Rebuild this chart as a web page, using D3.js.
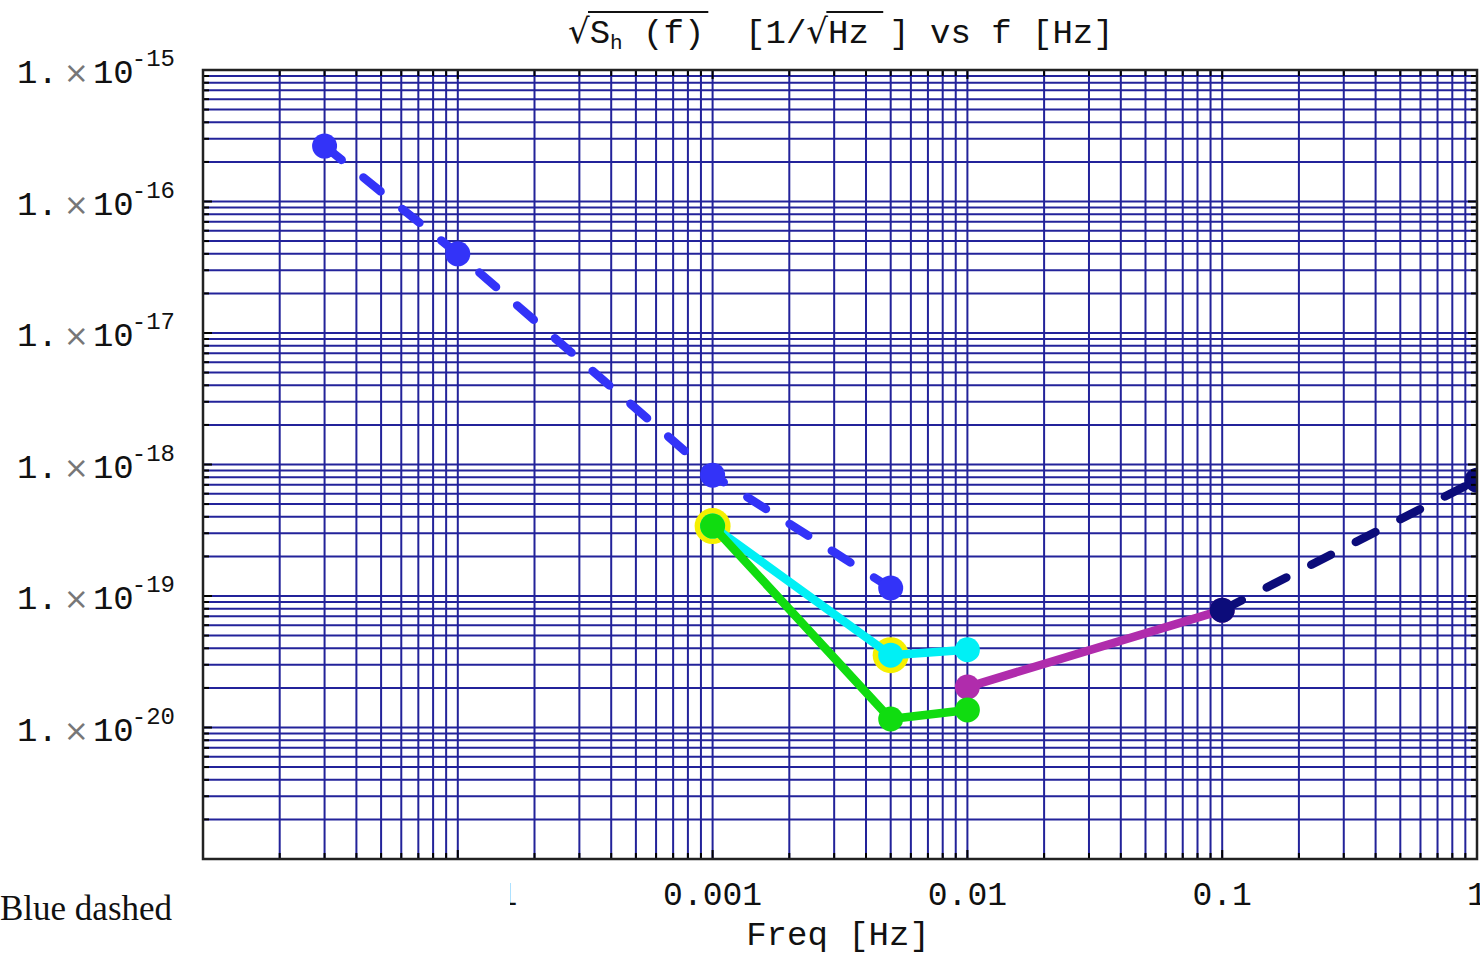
<!DOCTYPE html>
<html>
<head>
<meta charset="utf-8">
<script src="https://cdn.jsdelivr.net/npm/d3@7"></script>
<style>
  body { margin: 0; background: #fff; }
  svg { display: block; }
</style>
</head>
<body>
<svg id="my_svg"></svg>
<script>
var width = 1480, height = 956;
var svg = d3.select("#my_svg").attr("width", width).attr("height", height);

// data (freq in Hz, sqrt(Sh) in 1/sqrt(Hz))
var blueF = [3e-5, 1e-4, 1e-3, 5e-3];
var blueS = [2.64e-16, 4.0e-17, 8.3e-19, 1.15e-19];
var cyanF = [1e-3, 5e-3, 1e-2];
var cyanS = [3.4e-19, 3.55e-20, 3.9e-20];
var greenF = [1e-3, 5e-3, 1e-2];
var greenS = [3.4e-19, 1.16e-20, 1.36e-20];
var magentaF = [1e-2, 1e-1];
var magentaS = [2.03e-20, 7.8e-20];
var navyF = [1e-1, 1];
var navyS = [7.8e-20, 7.6e-19];
var yellowF = [1e-3, 5e-3];
var yellowS = [3.4e-19, 3.55e-20];

var xLabelVals = [1e-4, 1e-3, 1e-2, 1e-1, 1];
var xLabels = ["0.0001", "0.001", "0.01", "0.1", "1"];
var yLabelVals = [1e-15, 1e-16, 1e-17, 1e-18, 1e-19, 1e-20];
var yExps = ["-15", "-16", "-17", "-18", "-19", "-20"];

var plotL = 203, plotR = 1477, plotT = 70, plotB = 859;

var x = d3.scaleLog().domain([1e-5, 1]).range([plotL, plotR]);
var y = d3.scaleLog().domain([1e-21, 1e-15]).range([plotB, plotT]);

var mono = "'Liberation Mono', 'DejaVu Sans Mono', monospace";
var gridColor = "#23239a";

svg.append("clipPath").attr("id", "plotclip")
  .append("rect")
  .attr("x", plotL).attr("y", plotT)
  .attr("width", plotR - plotL).attr("height", plotB - plotT);

var plot = svg.append("g").attr("clip-path", "url(#plotclip)");

// grid lines at 1..9 x 10^n
plot.selectAll("line.vgrid")
  .data(x.ticks())
  .enter().append("line")
  .attr("class", "vgrid")
  .attr("x1", d => x(d)).attr("x2", d => x(d))
  .attr("y1", plotT).attr("y2", plotB)
  .attr("stroke", gridColor).attr("stroke-width", 2);

plot.selectAll("line.hgrid")
  .data(y.ticks())
  .enter().append("line")
  .attr("class", "hgrid")
  .attr("y1", d => y(d)).attr("y2", d => y(d))
  .attr("x1", plotL).attr("x2", plotR)
  .attr("stroke", gridColor).attr("stroke-width", 2);

// frame ticks (inside)
function isDecade(v) {
  var l = Math.log10(v);
  return Math.abs(l - Math.round(l)) < 1e-9;
}
var ticksG = svg.append("g").attr("stroke", "#000").attr("stroke-width", 2);
x.ticks().forEach(function (v) {
  var len = isDecade(v) ? 9 : 6;
  ticksG.append("line").attr("x1", x(v)).attr("x2", x(v)).attr("y1", plotB).attr("y2", plotB - len);
  ticksG.append("line").attr("x1", x(v)).attr("x2", x(v)).attr("y1", plotT).attr("y2", plotT + len);
});
y.ticks().forEach(function (v) {
  var len = isDecade(v) ? 9 : 6;
  ticksG.append("line").attr("y1", y(v)).attr("y2", y(v)).attr("x1", plotL).attr("x2", plotL + len);
  ticksG.append("line").attr("y1", y(v)).attr("y2", y(v)).attr("x1", plotR).attr("x2", plotR - len);
});

function pts(fs, ss) {
  return fs.map(function (f, i) { return [f, ss[i]]; });
}

var lineGenerator = d3.line()
  .x(function (d) { return x(d[0]); })
  .y(function (d) { return y(d[1]); });

function drawLine(data, color, dashed) {
  var p = plot.append("path")
    .attr("d", lineGenerator(data))
    .attr("fill", "none")
    .attr("stroke", color)
    .attr("stroke-width", 8.5)
    .attr("stroke-linejoin", "round")
    .attr("stroke-linecap", "round");
  if (dashed) p.attr("stroke-dasharray", "22,28");
}

function drawDots(data, color, r) {
  plot.selectAll(null)
    .data(data)
    .enter().append("circle")
    .attr("cx", d => x(d[0]))
    .attr("cy", d => y(d[1]))
    .attr("r", r)
    .attr("fill", color);
}

var blue = pts(blueF, blueS), cyan = pts(cyanF, cyanS), green = pts(greenF, greenS);
var magenta = pts(magentaF, magentaS), navy = pts(navyF, navyS), yellow = pts(yellowF, yellowS);

drawLine(blue, "#3333f8", true);
drawDots(blue, "#3333f8", 12.5);
drawLine(magenta, "#b02cac", false);
drawDots(magenta, "#b02cac", 12.5);
drawLine(navy, "#0c0c7a", true);
drawDots(navy, "#0c0c7a", 12.5);
drawDots(yellow, "#f5f000", 18);
drawLine(cyan, "#00f0f5", false);
drawDots(cyan, "#00f0f5", 12.5);
drawLine(green, "#10dc10", false);
drawDots(green, "#10dc10", 12.5);

// frame
svg.append("rect")
  .attr("x", plotL).attr("y", plotT)
  .attr("width", plotR - plotL).attr("height", plotB - plotT)
  .attr("fill", "none").attr("stroke", "#222").attr("stroke-width", 2.5);

// y labels  1. x 10^-n
yLabelVals.forEach(function (v, i) {
  var t = svg.append("text")
    .attr("x", 175).attr("y", y(v) + 13)
    .attr("text-anchor", "end")
    .style("font-family", mono).style("font-size", "34px").attr("fill", "#111");
  t.append("tspan").text("1.");
  t.append("tspan").text("\u00d7").attr("fill", "#777").attr("dx", 6)
    .style("font-family", "'DejaVu Sans', sans-serif").style("font-size", "30px");
  t.append("tspan").text("10").attr("dx", 4);
  t.append("tspan").text(yExps[i]).attr("dy", -17).attr("dx", -2).style("font-size", "24px");
});

// x labels
svg.selectAll("text.xlab")
  .data(xLabelVals)
  .enter().append("text")
  .attr("class", "xlab")
  .attr("x", d => x(d))
  .attr("y", 905)
  .attr("text-anchor", "middle")
  .style("font-family", mono).style("font-size", "33px").attr("fill", "#111")
  .text((d, i) => xLabels[i]);

// legend box covers the left of the axis labels
svg.append("rect").attr("x", 0).attr("y", 866).attr("width", 510).attr("height", 60).attr("fill", "#fff");
svg.append("text")
  .attr("x", 0).attr("y", 920)
  .style("font-family", "'Liberation Serif', 'DejaVu Serif', serif").style("font-size", "35px").attr("fill", "#111")
  .text("Blue dashed");

svg.append("text")
  .attr("x", 838).attr("y", 945)
  .attr("text-anchor", "middle")
  .style("font-family", mono).style("font-size", "34px").attr("fill", "#111")
  .text("Freq [Hz]");

// title
var title = svg.append("text")
  .attr("x", 568).attr("y", 43)
  .style("font-family", mono).style("font-size", "34px").attr("fill", "#111")
  .attr("xml:space", "preserve");
var r1 = title.append("tspan").text("\u221a").style("font-family", "'DejaVu Sans', sans-serif");
var s1 = title.append("tspan").text("S");
title.append("tspan").text("h").style("font-size", "21px").attr("dy", 6);
var e1 = title.append("tspan").text(" (f)").attr("dy", -6);
title.append("tspan").text("  [1/");
var r2 = title.append("tspan").text("\u221a").style("font-family", "'DejaVu Sans', sans-serif");
var e2 = title.append("tspan").text("Hz ");
title.append("tspan").text("] vs f [Hz]");

var b1 = r1.node().getBBox(), b1e = e1.node().getBBox();
var b2 = r2.node().getBBox(), b2e = e2.node().getBBox();
svg.append("line")
  .attr("x1", b1.x + b1.width - 2).attr("x2", b1e.x + b1e.width + 4)
  .attr("y1", 12).attr("y2", 12)
  .attr("stroke", "#111").attr("stroke-width", 2);
svg.append("line")
  .attr("x1", b2.x + b2.width - 2).attr("x2", b2e.x + b2e.width - 6)
  .attr("y1", 12).attr("y2", 12)
  .attr("stroke", "#111").attr("stroke-width", 2);
</script>
</body>
</html>
